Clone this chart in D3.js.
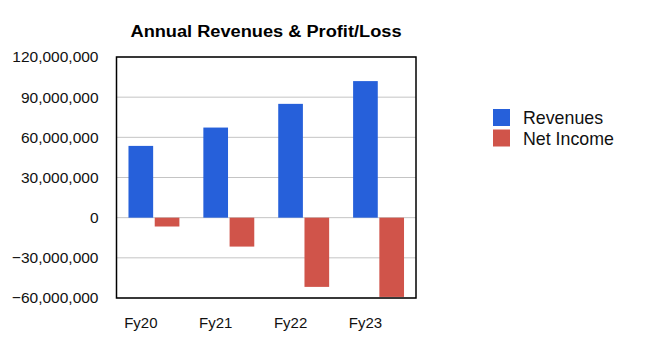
<!DOCTYPE html>
<html><head><meta charset="utf-8">
<script src="https://cdn.jsdelivr.net/npm/d3@7"></script>
<style>body{margin:0;background:#fff;} text{font-family:"Liberation Sans",Arial,Helvetica,sans-serif;}</style>
</head><body><svg id="c" width="650" height="356"></svg>
<script>
const categories = ["Fy20","Fy21","Fy22","Fy23"];
const seriesNames = ["Revenues","Net Income"];
const revenues = [53600000, 67300000, 85000000, 102000000];
const netIncome = [-6600000, -21600000, -51700000, -59200000];
const yTicks = [-60000000,-30000000,0,30000000,60000000,90000000,120000000];
const colors = ["#2660da","#d0544a"];

const svg = d3.select("#c");
const m = {l:116.5, r:416, t:57, b:298};
const x0 = d3.scaleBand().domain(categories).range([m.l, m.r]).paddingInner(0.32).paddingOuter(0.16);
const x1 = d3.scaleBand().domain(seriesNames).range([0, x0.bandwidth()]).paddingInner(0.06);
const y = d3.scaleLinear().domain([-60000000,120000000]).range([m.b, m.t]);

// grid
svg.append("g").selectAll("line").data(yTicks).join("line")
  .attr("x1", m.l).attr("x2", m.r)
  .attr("y1", d=>y(d)).attr("y2", d=>y(d))
  .attr("stroke", "#c4c4c4").attr("stroke-width", 1);

const rows = categories.map((c,i)=>({c, vals:[revenues[i], netIncome[i]]}));
const g = svg.append("g").selectAll("g").data(rows).join("g")
  .attr("transform", d=>`translate(${x0(d.c)},0)`);
g.selectAll("rect").data(d=>d.vals.map((v,j)=>({v, s:seriesNames[j], j}))).join("rect")
  .attr("x", d=>x1(d.s)).attr("width", x1.bandwidth())
  .attr("y", d=>y(Math.max(0,d.v))).attr("height", d=>Math.abs(y(d.v)-y(0)))
  .attr("fill", d=>colors[d.j]);

// border
svg.append("rect").attr("x", m.l).attr("y", m.t).attr("width", m.r-m.l).attr("height", m.b-m.t)
  .attr("fill","none").attr("stroke","#000").attr("stroke-width",1.5);

// y axis labels
const yAxis = d3.axisLeft(y).tickValues(yTicks).tickFormat(d3.format(",")).tickSize(0).tickPadding(18);
const ya = svg.append("g").attr("transform", `translate(${m.l},0)`).call(yAxis);
ya.select(".domain").remove();
ya.selectAll("text").attr("font-size", 15.5).attr("fill","#111").style("font-family","Liberation Sans, Arial, sans-serif");

// x labels
svg.append("g").selectAll("text").data(categories).join("text")
  .attr("x", d=>x0(d)+x1("Revenues")+x1.bandwidth()/2)
  .attr("y", 328).attr("text-anchor","middle").attr("font-size",15).attr("fill","#111")
  .text(d=>d);

// title
svg.append("text").attr("x", 266).attr("y", 37).attr("text-anchor","middle")
  .attr("font-size",16).attr("font-weight","bold").attr("fill","#000")
  .attr("textLength", 271).attr("lengthAdjust","spacingAndGlyphs")
  .text("Annual Revenues & Profit/Loss");

// legend
const lg = svg.append("g").attr("transform","translate(493,109)");
seriesNames.forEach((s,i)=>{
  lg.append("rect").attr("x",0).attr("y",i*20.5).attr("width",17).attr("height",17).attr("fill",colors[i]);
  lg.append("text").attr("x",30).attr("y",i*20.5+15).attr("font-size",17.8).attr("fill","#111").text(s);
});
</script></body></html>
